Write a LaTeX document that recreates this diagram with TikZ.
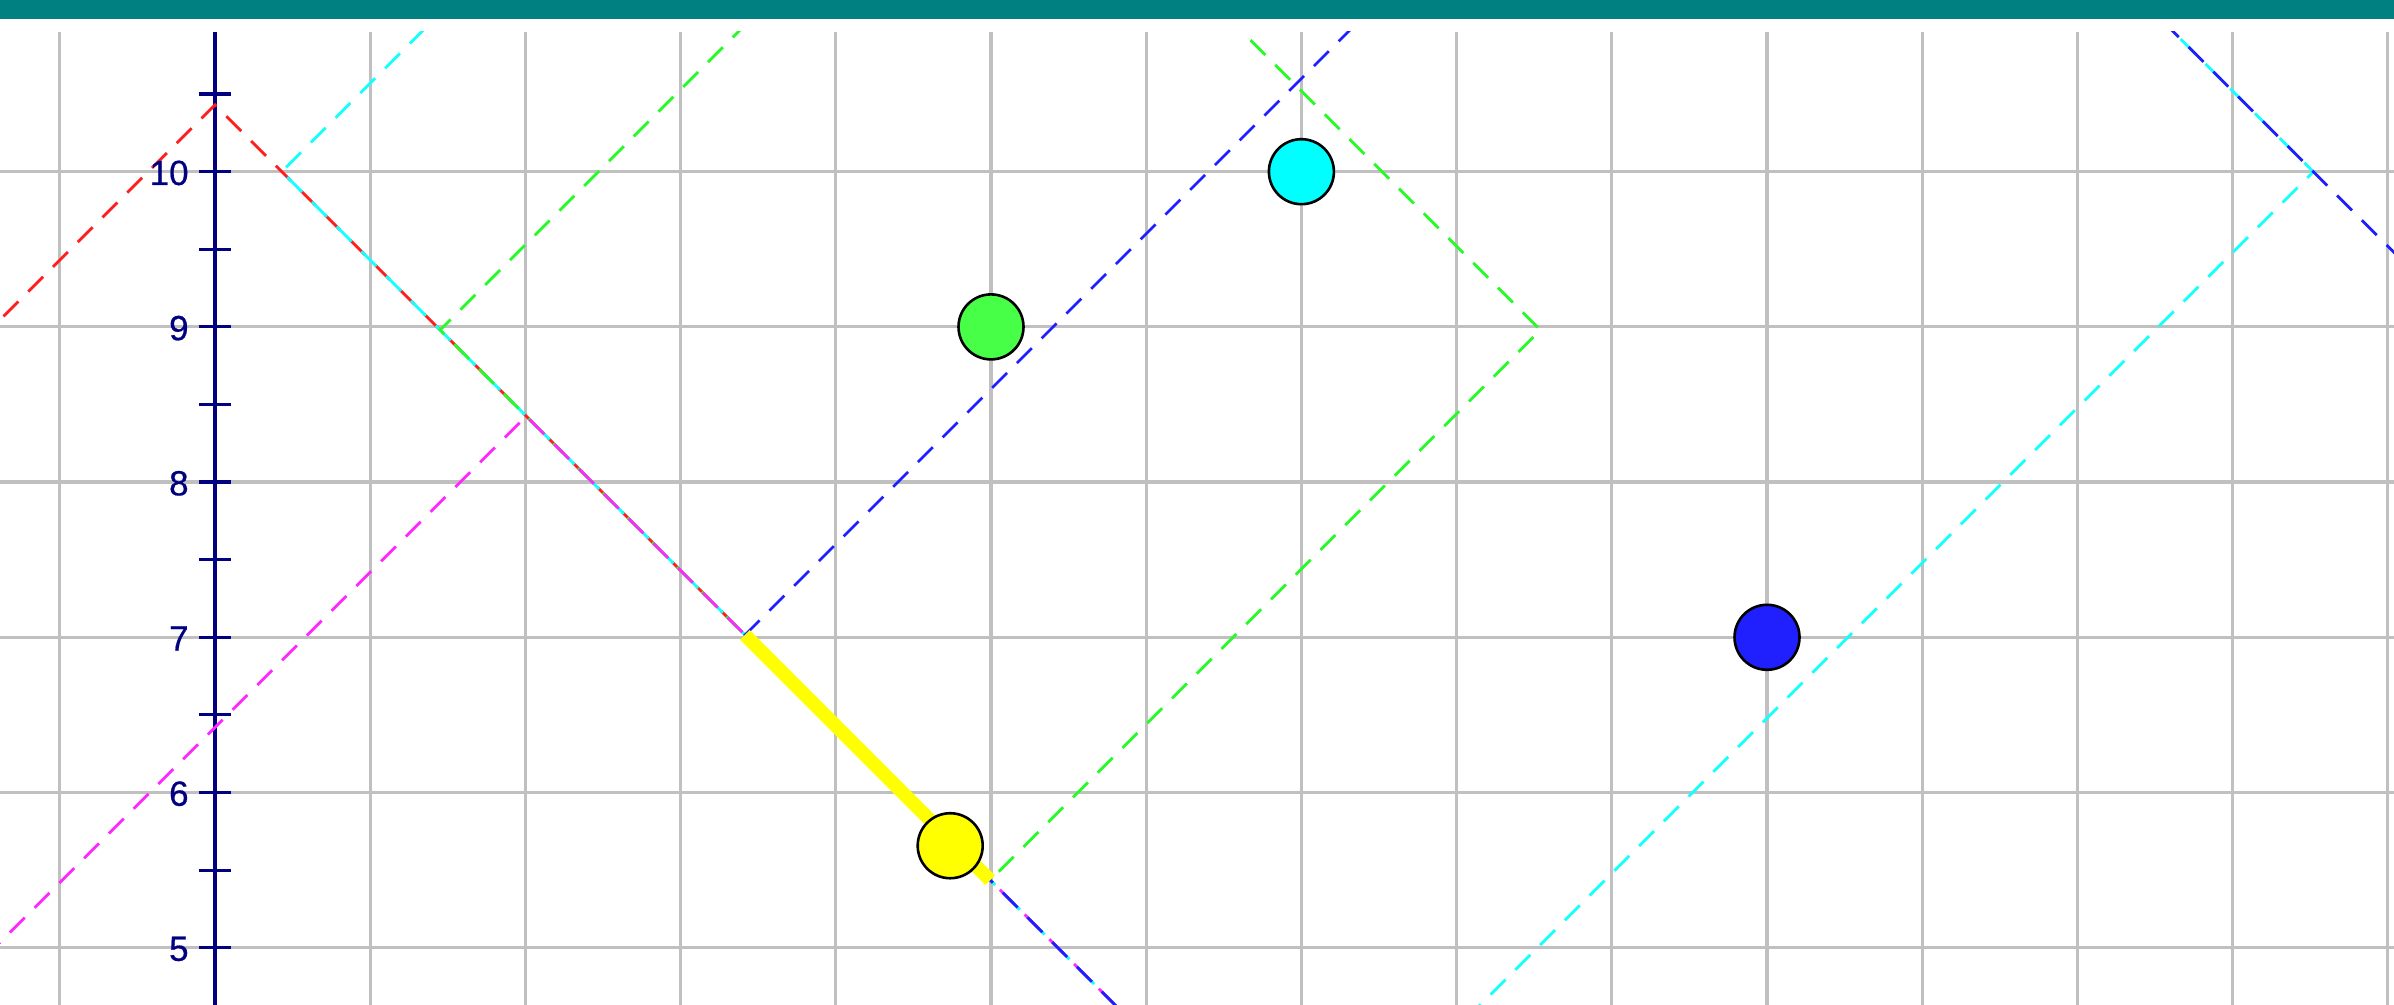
\documentclass[tikz,border=0pt]{standalone}
\usepackage{fontspec}
\setmainfont{Liberation Sans}
\definecolor{barteal}{RGB}{0,128,128}
\definecolor{gridgray}{RGB}{192,192,192}
\definecolor{axisnavy}{RGB}{0,0,128}
\definecolor{rayred}{RGB}{255,30,30}
\definecolor{raycyan}{RGB}{20,255,255}
\definecolor{raygreen}{RGB}{40,250,40}
\definecolor{raymag}{RGB}{255,40,255}
\definecolor{rayblue}{RGB}{30,30,255}
\definecolor{dotgreen}{RGB}{72,255,72}
\definecolor{dotcyan}{RGB}{0,255,255}
\definecolor{dotblue}{RGB}{32,32,255}
\definecolor{dotyellow}{RGB}{255,255,0}
\begin{document}
\begin{tikzpicture}[x=77.6pt,y=77.6pt,
  gridline/.style={draw=gridgray,line width=1.6pt},
  axisline/.style={draw=axisnavy,line width=1.6pt},
  ray/.style={line width=1.4pt,dash pattern=on 10.5pt off 7pt},
  ball/.style={circle,draw=black,line width=1.3pt,minimum size=32.5pt,inner sep=0pt},
  ylab/.style={anchor=east,inner sep=0pt,text=axisnavy,font=\fontsize{17.5}{17.5}\selectfont\addfontfeature{FakeBold=0.6}},
]
\useasboundingbox (-1.3853,4.6372) rectangle (14.0399,11.1063);
\fill[white] (-1.3853,4.6372) rectangle (14.0399,11.1063);
\fill[barteal] (-1.3853,10.9839) rectangle (14.0399,11.1063);

% named points of the rays
\coordinate (A) at (0,10.43);
\coordinate (Rs) at (-2,8.43);
\coordinate (C1) at (0.43,10.0);
\coordinate (Ct) at (1.63,11.2);
\coordinate (G1) at (1.45,8.98);
\coordinate (Gt) at (3.67,11.2);
\coordinate (Ms) at (-2,4.42);
\coordinate (M1) at (2.005,8.425);
\coordinate (B1) at (3.415,7.015);
\coordinate (Bt) at (7.6,11.2);
\coordinate (G2) at (4.995,5.435);
\coordinate (Gv) at (8.54,8.98);
\coordinate (Gt2) at (6.32,11.2);
\coordinate (Dend) at (6.2,4.23);
\coordinate (Cs) at (7.9,4.38);
\coordinate (Cv) at (13.52,10.0);
\coordinate (Ct2) at (12.32,11.2);
\coordinate (Be) at (14.3,9.22);

\begin{scope}
\clip (-1.3853,4.6372) rectangle (14.0399,10.9001);
% grid
\foreach \y in {5,...,10} \draw[gridline] (-1.4,\y) -- (14.1,\y);
\foreach \x in {-1,1,2,...,14} \draw[gridline] (\x,4.6) -- (\x,10.9001);
% axis
\draw[axisline] (0,4.6) -- (0,10.9001);
\foreach \y in {5,5.5,...,10.5} \draw[axisline] (-0.103,\y) -- (0.103,\y);
% rays
\draw[ray,rayred] (Rs) -- (A) -- (B1);
\draw[ray,raycyan,dash phase=4.4pt] (Ct) -- (C1) -- (Dend);
\draw[ray,raygreen,dash phase=8.8pt] (Gt) -- (G1) -- (G2) -- (Gv) -- (Gt2);
\draw[ray,raymag,dash phase=13.1pt] (Ms) -- (M1) -- (Dend);
\draw[ray,rayblue,dash phase=6pt] (Bt) -- (B1) -- (Dend);
\draw[ray,raycyan] (Cs) -- (Cv) -- (Ct2);
\draw[ray,rayblue,dash phase=9pt] (Ct2) -- (Be);
% yellow segment
\draw[dotyellow,line width=6.8pt,line cap=butt] (B1) -- (G2);
\end{scope}

% labels
\foreach \y in {5,...,10} \node[ylab] (lab\y) at (-0.1675,\y-0.008) {\y};

% dots
\node[ball,fill=dotgreen] (pg) at (5,9) {};
\node[ball,fill=dotcyan] (pc) at (7,10) {};
\node[ball,fill=dotblue] (pb) at (10,7) {};
\node[ball,fill=dotyellow] (py) at (4.737,5.657) {};
\end{tikzpicture}
\end{document}
